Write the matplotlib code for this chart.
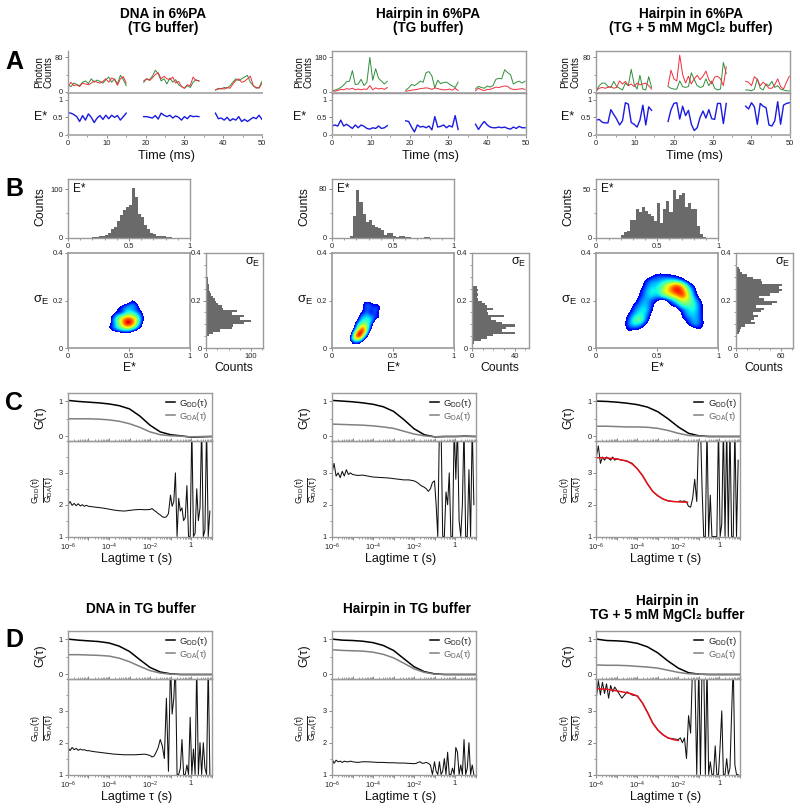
import numpy as np
import matplotlib
matplotlib.use("Agg")
import matplotlib.pyplot as plt
from matplotlib.colors import ListedColormap, PowerNorm
from matplotlib.lines import Line2D
from matplotlib.ticker import FixedLocator, LogLocator, MultipleLocator, NullFormatter

plt.rcParams['font.family'] = ['Liberation Sans', 'DejaVu Sans']
plt.rcParams['mathtext.fontset'] = 'custom'
plt.rcParams['mathtext.rm'] = 'Liberation Sans'
plt.rcParams['mathtext.it'] = 'Liberation Sans'
plt.rcParams['mathtext.bf'] = 'Liberation Sans:bold'

W, H = 800, 809
SPINE = '#9a9a9a'
TXT = '#222222'
BAR = '#6a6a6a'

# --- row A, photon traces: bursts start times, 0.75 ms bins
A_STEP = 0.75
A1_START = [0, 19.5, 38]
A1_GREEN = [[15, 12, 20, 17, 14, 22, 25, 19, 30, 22, 27, 24, 20, 28, 34, 22, 30, 18, 38, 28, 14],
            [22, 30, 28, 36, 50, 42, 25, 30, 18, 32, 22, 28, 16, 12, 8, 14, 10, 22, 28, 24],
            [4, 8, 6, 10, 8, 14, 22, 30, 26, 30, 34, 38, 22, 14, 8, 10, 24]]
A1_RED = [[10, 22, 14, 16, 12, 20, 18, 16, 20, 25, 22, 20, 24, 30, 22, 32, 28, 15, 30, 35, 20],
          [25, 30, 26, 32, 40, 44, 30, 36, 30, 28, 34, 20, 24, 12, 8, 16, 14, 34, 26, 26],
          [4, 6, 8, 6, 10, 8, 18, 26, 30, 22, 24, 30, 36, 14, 10, 8, 20]]
A1_BLUE = [[.63, .62, .58, .52, .38, .55, .42, .60, .50, .35, .48, .55, .44, .56, .46, .56, .50, .55, .42, .52, .62],
           [.52, .52, .50, .48, .55, .45, .62, .56, .52, .56, .48, .54, .50, .42, .52, .46, .55, .52, .53, .52],
           [.62, .46, .48, .42, .50, .40, .46, .42, .52, .38, .44, .38, .44, .50, .46, .56, .44]]

A2_START = [0, 19, 37]
A2_GREEN = [[4, 8, 14, 22, 35, 52, 55, 110, 38, 40, 65, 32, 50, 180, 60, 120, 70, 55, 40, 55],
            [8, 20, 38, 32, 42, 55, 50, 100, 105, 82, 20, 60, 42, 48, 50, 40, 30, 22, 50],
            [15, 28, 22, 18, 30, 24, 32, 65, 70, 68, 115, 100, 90, 40, 50, 55, 45, 55]]
A2_RED = [[4, 3, 6, 12, 10, 16, 13, 18, 10, 14, 10, 14, 12, 32, 10, 20, 14, 18, 12, 22],
          [2, 5, 8, 10, 12, 16, 18, 20, 18, 12, 20, 16, 12, 10, 10, 14, 8, 18, 6],
          [5, 18, 10, 6, 12, 12, 18, 24, 22, 26, 30, 28, 16, 12, 12, 14, 16, 12]]
A2_BLUE = [[.25, .28, .25, .42, .25, .30, .24, .18, .28, .20, .28, .24, .18, .16, .20, .18, .25, .18, .20, .26],
           [.40, .38, .22, .08, .28, .22, .24, .20, .25, .14, .52, .22, .24, .28, .20, .26, .22, .55, .15],
           [.30, .15, .28, .38, .28, .22, .20, .20, .22, .20, .22, .18, .16, .22, .18, .24, .20, .20]]

A3_START = [0, 18.5, 38.5]
A3_GREEN = [[2, 14, 20, 20, 12, 10, 24, 12, 8, 4, 20, 14, 52, 18, 6, 38, 6, 4, 35, 10],
            [12, 8, 6, 6, 25, 12, 10, 12, 44, 28, 14, 10, 12, 30, 14, 25, 8, 4, 6, 68, 42],
            [4, 4, 2, 6, 30, 8, 4, 18, 14, 24, 10, 14, 6, 4, 2, 2]]
A3_RED = [[2, 8, 10, 8, 10, 12, 8, 10, 25, 18, 24, 14, 18, 12, 20, 16, 18, 20, 14, 6],
          [14, 50, 30, 25, 85, 40, 20, 36, 18, 30, 38, 28, 36, 48, 28, 18, 34, 36, 30, 14, 58],
          [24, 22, 14, 35, 28, 14, 22, 16, 8, 8, 16, 30, 12, 6, 22, 36]]
A3_BLUE = [[.42, .44, .36, .34, .34, .72, .58, .45, .28, .40, .92, .88, .35, .30, .22, .42, .85, .28, .80, .70],
           [.38, .72, .90, .92, .45, .82, .55, .70, .30, .12, .20, .50, .68, .48, .72, .46, .44, .90, .90, .32, .90],
           [.82, .74, .92, .80, .30, .90, .82, .78, .28, .25, .40, .95, .30, .85, .90, .92]]

# --- row B, histograms (start of first bin, then counts per bin)
E_WIDTH = 0.025
S_WIDTH = 0.01
B1_E_START = 0.2
B1_E = [1, 2, 3, 4, 6, 9, 18, 22, 34, 46, 56, 64, 68, 103, 84, 48, 42, 27, 18, 10, 7, 4, 3, 3, 2, 1]
B2_E_START = 0.15
B2_E = [3, 36, 78, 58, 38, 26, 28, 20, 17, 15, 12, 4, 8, 7, 2, 1, 3, 3, 1, 1, 0, 0, 0, 0, 1, 1]
B3_E_START = 0.2
B3_E = [3, 6, 7, 18, 18, 30, 26, 32, 27, 24, 22, 17, 36, 15, 30, 38, 26, 49, 40, 44, 46, 32, 36, 30, 30, 12, 4, 1]

B1_S_START = 0.04
B1_S = [1, 5, 14, 30, 57, 60, 85, 100, 75, 85, 58, 70, 38, 35, 26, 22, 20, 14, 10, 8, 7, 5, 5, 4, 3, 3, 2, 2, 1, 1, 1, 1]
B2_S_START = 0.02
B2_S = [2, 8, 14, 20, 40, 28, 32, 40, 28, 22, 18, 30, 15, 14, 20, 14, 12, 9, 5, 4, 5, 4, 5, 4, 1, 1, 1, 1, 1]
B3_S_START = 0.05
B3_S = [1, 3, 5, 7, 12, 25, 20, 24, 29, 22, 33, 38, 27, 48, 55, 38, 30, 45, 58, 62, 58, 62, 35, 33, 22, 15, 8, 5, 3, 1, 1]

# --- row B, 2D density estimated on a coarse grid, sigma listed from high to low
D1_E = [.32, .36, .40, .44, .48, .52, .56, .60, .64]
D1_S = [.195, .18, .165, .15, .135, .12, .105, .09, .075, .06]
D1_Z = [[0, 0, 0, 0, 0, 1.1, .5, 0, 0],
        [0, 0, 0, 1.1, 1.5, 2.5, 1.5, 0, 0],
        [0, 0, 1, 1.5, 2.5, 2, 1.5, .5, .9],
        [0, .5, 1.2, 1, 3, 3, 2, 1, 0],
        [0, 1, 2.5, 4, 5, 5, 3.5, 1.5, 0],
        [0, 1.5, 3.5, 6, 9, 8, 4.5, 1.5, 0],
        [0, 1.2, 3, 5.5, 10, 8, 4, 1, 0],
        [.9, 1.5, 3, 4.5, 6, 5, 2.5, .6, 0],
        [0, 1, 1.5, 2, 2.5, 1.5, .5, 0, 0],
        [0, 0, 0, 0, 0, 0, 0, 0, 0]]

D2_E = [.14, .17, .20, .23, .26, .29, .32, .35, .38, .41, .44]
D2_S = [.235, .22, .205, .19, .175, .16, .145, .13, .115, .10, .085, .07, .055, .04, .025]
D2_Z = [[0, 0, 0, 0, 0, 0, 0, 0, 0, 0, 0],
        [0, 0, 0, 0, 0, 0, 0, 1.2, 1.3, 0, 0],
        [0, 0, 0, 0, 0, 0, 0, 0, 0, 0, 0],
        [0, 0, 0, 0, 1, 1.5, 1, .5, .8, 0, 0],
        [0, 0, 0, 0, 1.3, 1.8, 1.5, 1.2, 1.4, 0, 0],
        [0, 0, 0, 0, 1.2, 1.6, 1.2, 1.8, 1.3, 0, 0],
        [0, 0, 0, .8, 1.5, 2, 1, 1.6, .8, 0, 0],
        [0, 0, 0, 1.5, 2.5, 2.5, 2.2, 1.5, 1.3, .5, 0],
        [0, 0, .6, 2, 3, 3.2, 2.5, 1, 0, 0, 0],
        [0, 0, 1.5, 3.5, 4.5, 3.5, 1.5, 0, 0, 0, 0],
        [0, 0, 2, 5.5, 7, 3.5, 1, 0, 0, 0, 0],
        [0, 1, 4, 9, 8, 2.5, 0, 0, 0, 0, 0],
        [0, 1.5, 8, 10, 4, 1, 0, 0, 0, 0, 0],
        [.5, 3, 6, 5, 1.5, 0, 0, 0, 0, 0, 0],
        [0, 1, 1.2, .8, 0, 0, 0, 0, 0, 0, 0]]

D3_E = [.20, .25, .30, .35, .40, .45, .50, .55, .60, .65, .70, .75, .80, .85, .90]
D3_S = [.32, .30, .28, .26, .24, .22, .20, .18, .16, .14, .12, .10, .08, .06, .04]
D3_Z = [[0, 0, 0, 0, 0, 0, .5, .3, .3, 0, 0, 0, 0, 0, 0],
        [0, 0, 0, 0, 0, 1, 1.5, 1.5, 1.2, 1, .5, 0, 0, 0, 0],
        [0, 0, 0, 0, 1.3, 2, 2, 2.5, 3, 2.5, 1.5, .5, 0, 0, 0],
        [0, 0, 0, 0, 1.5, 2.5, 2.5, 4, 6, 8.5, 6, 2, .8, 0, 0],
        [0, 0, 0, .7, 2, 3, 2.5, 5, 6.5, 9.5, 8, 3.5, 1.2, 0, 0],
        [0, 0, 0, 1, 2, 3, 2, 4, 5, 6, 9, 4.5, 1.5, 0, 0],
        [0, 0, 0, 1.5, 2.5, 1.5, 1, 0, 1.5, 3, 5, 4.5, 2.5, 1, 0],
        [0, 0, 1, 2, 2.5, 1.5, 0, 0, 1, 1.5, 3.5, 3.5, 3, 1.3, 0],
        [0, 0, 1.5, 2.5, 3, 1, 0, 0, 0, 0, 1.5, 2.5, 3, 1.3, 0],
        [0, .8, 2, 3, 2.5, .5, 0, 0, 0, 0, 1, 2.5, 2.5, 1.5, 0],
        [0, 1, 3, 4.5, 2, 0, 0, 0, 0, 0, .8, 1.5, 2.5, 1.5, 0],
        [0, 1.5, 3, 2.5, 1, 0, 0, 0, 0, 0, 0, 1, 2.5, 1.5, .3],
        [0, 1, 1.2, 1, 0, 0, 0, 0, 0, 0, 0, 0, .5, 1.2, 0],
        [.8, 1, 0, 0, 0, 0, 0, 0, 0, 0, 0, 0, 0, 0, 0],
        [0, 0, 0, 0, 0, 0, 0, 0, 0, 0, 0, 0, 0, 0, 0]]

# --- rows C and D, log10 lag time grids shared by all panels
G_LOG = [-6, -5.5, -5, -4.5, -4, -3.5, -3, -2.5, -2, -1.5, -1, -.5, 0, .5, 1]
C1_DD = [1.02, .99, .97, .95, .92, .87, .78, .58, .32, .13, .05, .02, -.02, -.01, 0]
C1_DA = [.50, .50, .50, .49, .47, .43, .36, .26, .13, .05, .02, .01, -.01, 0, 0]
C2_DD = [1.02, 1.0, .98, .95, .91, .84, .71, .48, .22, .05, -.01, 0, 0, .01, 0]
C2_DA = [.35, .34, .33, .32, .30, .27, .23, .15, .07, .02, -.01, 0, 0, 0, 0]
C3_DD = [1.0, .99, .97, .94, .90, .83, .70, .50, .27, .09, .02, 0, 0, 0, 0]
C3_DA = [.29, .29, .28, .27, .27, .26, .23, .17, .09, .03, .01, 0, 0, 0, 0]
D1_DD = [1.0, .97, .95, .93, .89, .80, .65, .42, .20, .07, .02, 0, 0, 0, 0]
D1_DA = [.56, .56, .55, .54, .52, .46, .36, .23, .11, .04, .01, 0, 0, 0, 0]
D2_DD = [1.0, .97, .96, .94, .90, .82, .68, .45, .22, .08, .02, 0, 0, 0, 0]
D2_DA = [.70, .68, .67, .66, .63, .57, .47, .32, .16, .06, .01, 0, 0, 0, 0]
D3_DD = [1.0, .96, .95, .93, .88, .78, .61, .38, .18, .05, .01, 0, 0, 0, 0]
D3_DA = [.27, .26, .26, .25, .23, .21, .18, .12, .06, .02, .01, 0, 0, 0, 0]

RATIO_LOG = np.concatenate([np.arange(-6, -5, .1), np.arange(-5, -2, .25),
                            np.arange(-2, -1, .1), np.arange(-1, 1, .08)])
C1_RATIO = [2.0, 2.1, 1.98, 2.04, 1.97, 2.03, 1.96, 2.0, 1.95, 1.98,
            1.95, 1.93, 1.91, 1.89, 1.86, 1.83, 1.81, 1.80, 1.82, 1.84, 1.85, 1.84,
            1.85, 1.88, 1.82, 1.78, 1.72, 1.68, 1.62, 1.60, 1.62, 1.72,
            2.3, 1.95, 2.1, 3.0, 1.0, 2.2, 1.8, 1.9, 1.5, 1.6, 2.6, 1.0, 1.0, 4.5, 1.0, 1.1, 2.5, 1.5, 1.9, 4.5, 1.0, 1.2, 4.5, 1.0, 1.8]
C2_RATIO = [3.0, 3.3, 2.9, 3.0, 2.85, 3.05, 2.9, 3.1, 2.95, 3.0,
            2.95, 2.92, 2.93, 2.9, 2.87, 2.86, 2.85, 2.84, 2.82, 2.8, 2.78, 2.78,
            2.75, 2.72, 2.68, 2.62, 2.58, 2.55, 2.5, 2.42, 2.5, 2.7,
            2.75, 2.0, 1.0, 4.5, 4.5, 1.0, 1.0, 2.4, 2.0, 3.0, 1.0, 1.0, 4.5, 2.8, 4.5, 1.5, 1.0, 2.0, 4.5, 1.0, 1.0, 3.1, 1.0, 4.5, 2.0]
C3_RATIO = [3.5, 3.85, 3.3, 3.5, 3.4, 3.5, 3.45, 3.4, 3.5, 3.4,
            3.44, 3.4, 3.37, 3.3, 3.13, 2.92, 2.65, 2.42, 2.28, 2.18, 2.12, 2.1,
            2.1, 2.12, 2.1, 2.12, 2.08, 1.95, 1.92, 2.2, 2.8, 2.1,
            4.5, 4.5, 2.5, 1.0, 1.0, 4.5, 1.0, 2.3, 1.0, 1.0, 1.0, 1.0, 4.5, 1.0, 1.4, 4.5, 1.0, 4.5, 1.0, 4.5, 1.0, 1.0, 4.5, 1.0, 3.4]
D1_RATIO = [1.85, 1.75, 1.85, 1.78, 1.82, 1.76, 1.8, 1.77, 1.78, 1.75,
            1.75, 1.72, 1.7, 1.68, 1.66, 1.64, 1.63, 1.62, 1.62, 1.62, 1.63, 1.64,
            1.6, 1.55, 1.58, 1.7, 1.85, 2.1, 1.9, 1.5, 3.4, 1.1,
            4.5, 2.9, 3.4, 4.5, 1.0, 1.0, 1.2, 2.1, 1.0, 1.0, 1.3, 1.0, 2.8, 1.0, 1.8, 1.0, 4.5, 1.0, 2.0, 1.0, 2.0, 1.2, 1.0, 4.5, 1.0]
D2_RATIO = [1.5, 1.35, 1.45, 1.4, 1.42, 1.38, 1.42, 1.4, 1.4, 1.42,
            1.4, 1.38, 1.4, 1.4, 1.39, 1.38, 1.38, 1.37, 1.37, 1.36, 1.36, 1.35,
            1.34, 1.35, 1.38, 1.4, 1.35, 1.36, 1.38, 1.35, 1.3, 1.0,
            1.4, 1.1, 1.0, 1.4, 1.0, 1.1, 1.5, 1.0, 1.7, 1.0, 1.0, 1.2, 1.0, 1.85, 1.7, 1.0, 1.3, 1.0, 2.1, 1.0, 1.2, 2.0, 1.0, 1.3, 1.0]
D3_RATIO = [3.4, 3.95, 3.5, 3.9, 3.55, 3.85, 3.4, 3.8, 3.6, 3.75,
            3.65, 3.4, 3.6, 3.5, 3.47, 3.25, 2.95, 2.62, 2.4, 2.25, 2.15, 2.12,
            2.1, 2.15, 2.0, 2.15, 1.5, 2.85, 2.3, 4.5, 4.5, 1.0,
            4.5, 1.0, 4.5, 4.5, 1.0, 4.5, 1.0, 1.4, 1.0, 1.0, 1.9, 1.0, 1.0, 1.9, 3.0, 1.0, 1.0, 1.5, 1.0, 1.2, 2.9, 4.5, 1.3, 1.0, 1.0]

FIT_LOG = [-6, -5.5, -5, -4.5, -4.25, -4, -3.75, -3.5, -3.25, -3, -2.75, -2.5, -2.25, -2, -1.75, -1.55]
C3_FIT = [3.48, 3.47, 3.44, 3.37, 3.28, 3.13, 2.92, 2.65, 2.42, 2.28, 2.18, 2.12, 2.1, 2.09, 2.08, 2.08]
D3_FIT = [3.7, 3.68, 3.63, 3.57, 3.53, 3.47, 3.25, 2.95, 2.62, 2.4, 2.25, 2.15, 2.1, 2.07]

COL_X = [68, 332, 596.3]
RIGHT_X = [206.3, 472.3, 736.3]
HIST_TICKS = [100, 40, 60]
HIST_XMAX = [128, 54, 77]
TOP_YMAX = [120, 95, 60]
TOP_TICKS = [100, 80, 50]
# distance of the row A labels left of each panel
PHOTON_DX = [29, 33, 31]
ESTAR_DX = [27, 32, 29]

fig = plt.figure(figsize=(W / 100, H / 100), dpi=100, facecolor='white')

# density colours: white under the lowest contour, then jet
base = matplotlib.colormaps['jet'](np.linspace(0.08, 1, 180))
dens_cmap = ListedColormap(np.vstack([np.ones((77, 4)), base]))
dens_norm = PowerNorm(gamma=.5, vmin=0, vmax=10)


def pix_ax(x0, y0, x1, y1):
    ax = fig.add_axes([x0 / W, 1 - y1 / H, (x1 - x0) / W, (y1 - y0) / H])
    ax.patch.set_alpha(0)
    return ax


def label(x, y, s, size=8.5, **kw):
    kw.setdefault('ha', 'center')
    kw.setdefault('va', 'center')
    kw.setdefault('color', '#111111')
    fig.text(x / W, 1 - y / H, s, fontsize=size, **kw)


def style(ax, spines=('left', 'bottom'), labelsize=5.4):
    for name, sp in ax.spines.items():
        sp.set_visible(name in spines)
        sp.set_color(SPINE)
        sp.set_linewidth(1.0)
    ax.tick_params(which='major', length=2, width=.6, color='#777777', labelsize=labelsize,
                   labelcolor=TXT, pad=1.5)
    ax.tick_params(which='minor', length=1.1, width=.5, color='#777777')


def trace_panel(i, starts, green, red, blue, ymax_tick, boxed):
    x0 = COL_X[i]
    sides = ('left', 'bottom', 'top', 'right') if boxed else ('left', 'bottom')
    top = pix_ax(x0, 51, x0 + 194, 93)
    style(top, sides)
    scale = ymax_tick / 34.4
    top.set_xlim(0, 50)
    top.set_ylim(-1.3 * scale, 40.7 * scale)
    top.set_yticks([0, ymax_tick])
    top.yaxis.set_minor_locator(FixedLocator([ymax_tick / 2]))
    top.set_xticks([])
    for start, g, r in zip(starts, green, red):
        t = start + A_STEP * np.arange(len(g))
        top.plot(t, g, color='#2f8f3a', lw=.7)
        top.plot(t, r, color='#ee2f3c', lw=.7)
    low = pix_ax(x0, 93, x0 + 194, 134.7)
    style(low, sides)
    for ax in (top, low):
        ax.spines['bottom'].set_linewidth(1.4)
        ax.spines['bottom'].set_color('#b0b0b0')
    low.set_xlim(0, 50)
    low.set_ylim(0, 1.2)
    low.set_yticks([0, .5, 1], ['0', '0.5', '1'])
    low.set_xticks(range(0, 51, 10))
    low.xaxis.set_minor_locator(MultipleLocator(5))
    low.tick_params(axis='x', pad=2)
    for start, b in zip(starts, blue):
        t = start + A_STEP * np.arange(len(b))
        low.plot(t, b, color='#1a1ae0', lw=1.0)
    label(x0 - PHOTON_DX[i], 72, 'Photon', 7.2, rotation=90)
    label(x0 - PHOTON_DX[i] + 10, 72, 'Counts', 7.2, rotation=90)
    label(x0 - ESTAR_DX[i], 117, 'E*', 9)
    label(x0 + 98, 156, 'Time (ms)', 9.2)


def hist_panel(i, e_start, e_counts, s_start, s_counts, dens_e, dens_s, dens_z):
    x0 = COL_X[i]
    top = pix_ax(x0, 179.3, x0 + 122, 237.7)
    style(top, ('left', 'bottom', 'top', 'right'))
    edges = e_start + E_WIDTH * np.arange(len(e_counts))
    top.bar(edges, e_counts, E_WIDTH, align='edge', color=BAR, lw=0)
    top.set_xlim(0, 1)
    top.set_ylim(0, TOP_YMAX[i])
    top.set_xticks([0, .5, 1], ['0', '0.5', '1'])
    top.set_yticks([0, TOP_TICKS[i]])
    top.xaxis.set_minor_locator(MultipleLocator(.1))
    top.yaxis.set_minor_locator(MultipleLocator(TOP_TICKS[i] / 2))
    top.text(.04, .83, 'E*', transform=top.transAxes, fontsize=8.5, color='#111111', va='center')
    label(x0 - 28, 207, 'Counts', 8.8, rotation=90)

    mid = pix_ax(x0, 252.7, x0 + 122, 348.3)
    style(mid, ('left', 'bottom', 'top', 'right'))
    for sp in mid.spines.values():
        sp.set_linewidth(1.2)
    de = dens_e[1] - dens_e[0]
    ds = dens_s[0] - dens_s[1]
    mid.imshow(dens_z, cmap=dens_cmap, norm=dens_norm, aspect='auto', interpolation='bicubic',
               extent=[dens_e[0] - de / 2, dens_e[-1] + de / 2, dens_s[-1] - ds / 2, dens_s[0] + ds / 2])
    mid.set_xlim(0, 1)
    mid.set_ylim(0, .4)
    mid.set_xticks([0, .5, 1], ['0', '0.5', '1'])
    mid.set_yticks([0, .2, .4], ['0', '0.2', '0.4'])
    label(x0 - 27, 300, r'$\mathregular{σ_E}$', 9.5)
    label(x0 + 61, 368, 'E*', 8.8)

    right = pix_ax(RIGHT_X[i], 252.7, RIGHT_X[i] + 57, 348.3)
    style(right, ('left', 'bottom', 'top', 'right'))
    edges = s_start + S_WIDTH * np.arange(len(s_counts))
    right.barh(edges, s_counts, S_WIDTH, align='edge', color=BAR, lw=0)
    right.set_xlim(0, HIST_XMAX[i])
    right.set_ylim(0, .4)
    right.set_xticks([0, HIST_TICKS[i]])
    right.xaxis.set_minor_locator(MultipleLocator(HIST_TICKS[i] / 4))
    right.set_yticks([0, .2, .4], ['0', '0.2', '0.4'])
    right.yaxis.set_minor_locator(MultipleLocator(.05))
    right.text(.68, .9, r'$\mathregular{σ_E}$', transform=right.transAxes, fontsize=9, color='#111111', va='center')
    label(RIGHT_X[i] + 28, 368, 'Counts', 8.8)


def log_label(val, pos):
    ex = round(np.log10(val))
    if ex == 0:
        return '1'
    if ex in (-6, -4, -2):
        return r'$\mathregular{10^{%d}}$' % ex
    return ''


def fcs_panel(x0, y_top, dd, da, ratio, fit=None):
    y_mid = y_top + 47.8
    y_bot = y_top + 143.2
    up = pix_ax(x0, y_top, x0 + 143.5, y_mid)
    style(up, ('left', 'bottom', 'top', 'right'))
    tau = 10.0 ** np.array(G_LOG)
    up.semilogx(tau, dd, color='black', lw=1.1, label=r'$\mathregular{G_{DD}(τ)}$')
    up.semilogx(tau, da, color='#808080', lw=1.1, label=r'$\mathregular{G_{DA}(τ)}$')
    up.set_xlim(1e-6, 10)
    up.set_ylim(-.13, 1.22)
    up.set_yticks([0, 1])
    up.yaxis.set_minor_locator(MultipleLocator(.5))
    up.legend(loc='upper right', fontsize=6.8, frameon=False, handlelength=.9, handletextpad=.5,
              labelspacing=0, borderpad=.1, borderaxespad=.25, labelcolor=['#222222', '#666666'])
    up.xaxis.set_major_locator(FixedLocator(10.0 ** np.arange(-6, 2)))
    up.xaxis.set_minor_locator(LogLocator(base=10, subs=range(2, 10), numticks=20))
    up.xaxis.set_major_formatter(NullFormatter())
    up.xaxis.set_minor_formatter(NullFormatter())
    up.tick_params(axis='x', which='both', direction='in')

    low = pix_ax(x0, y_mid, x0 + 143.5, y_bot)
    style(low, ('left', 'bottom', 'top', 'right'))
    low.semilogx(10.0 ** RATIO_LOG, ratio, color='#111111', lw=.75)
    if fit is not None:
        low.semilogx(10.0 ** np.array(FIT_LOG[:len(fit)]), fit, color='#e8101a', lw=1.1)
    low.set_xlim(1e-6, 10)
    low.set_ylim(1, 4)
    low.set_yticks([1, 2, 3])
    low.yaxis.set_minor_locator(MultipleLocator(.5))
    low.xaxis.set_major_locator(FixedLocator(10.0 ** np.arange(-6, 2)))
    low.xaxis.set_major_formatter(plt.FuncFormatter(log_label))
    low.xaxis.set_minor_locator(LogLocator(base=10, subs=range(2, 10), numticks=20))
    low.xaxis.set_minor_formatter(NullFormatter())
    low.tick_params(axis='x', pad=2)
    label(x0 - 28, y_top + 24, 'G(τ)', 8.8, rotation=90)

    # ratio label as two rotated lines with a bar between them
    yc = y_top + 96.7
    label(x0 - 32, yc, r'$\mathregular{G_{DD}(τ)}$', 6.4, rotation=90)
    label(x0 - 19.5, yc, r'$\mathregular{G_{DA}(τ)}$', 6.4, rotation=90)
    fig.add_artist(Line2D([(x0 - 25.5) / W] * 2, [1 - (yc - 12) / H, 1 - (yc + 12) / H], color='#222222', lw=.7))
    label(x0 + 69, y_bot + 22.5, 'Lagtime τ (s)', 9)


trace_panel(0, A1_START, A1_GREEN, A1_RED, A1_BLUE, 80, False)
trace_panel(1, A2_START, A2_GREEN, A2_RED, A2_BLUE, 180, True)
trace_panel(2, A3_START, A3_GREEN, A3_RED, A3_BLUE, 80, True)

hist_panel(0, B1_E_START, B1_E, B1_S_START, B1_S, D1_E, D1_S, D1_Z)
hist_panel(1, B2_E_START, B2_E, B2_S_START, B2_S, D2_E, D2_S, D2_Z)
hist_panel(2, B3_E_START, B3_E, B3_S_START, B3_S, D3_E, D3_S, D3_Z)

fcs_panel(COL_X[0], 393.3, C1_DD, C1_DA, C1_RATIO)
fcs_panel(COL_X[1], 393.3, C2_DD, C2_DA, C2_RATIO)
fcs_panel(COL_X[2], 393.3, C3_DD, C3_DA, C3_RATIO, C3_FIT)
fcs_panel(COL_X[0], 631.3, D1_DD, D1_DA, D1_RATIO)
fcs_panel(COL_X[1], 631.3, D2_DD, D2_DA, D2_RATIO)
fcs_panel(COL_X[2], 631.3, D3_DD, D3_DA, D3_RATIO, D3_FIT)

for x, y, s in [(163, 14, 'DNA in 6%PA'), (163, 28, '(TG buffer)'),
                (428, 14, 'Hairpin in 6%PA'), (428, 28, '(TG buffer)'),
                (691, 14, 'Hairpin in 6%PA'), (691, 28, '(TG + 5 mM MgCl₂ buffer)'),
                (141, 609, 'DNA in TG buffer'), (407, 609, 'Hairpin in TG buffer'),
                (667, 601, 'Hairpin in'), (667, 615, 'TG + 5 mM MgCl₂ buffer')]:
    label(x, y, s, 9.8, fontweight='bold', color='black')

for y, s in [(62, 'A'), (189, 'B'), (403, 'C'), (640, 'D')]:
    label(5, y, s, 18, ha='left', fontweight='bold', color='black')

fig.savefig('out.png', dpi=100, facecolor='white')
